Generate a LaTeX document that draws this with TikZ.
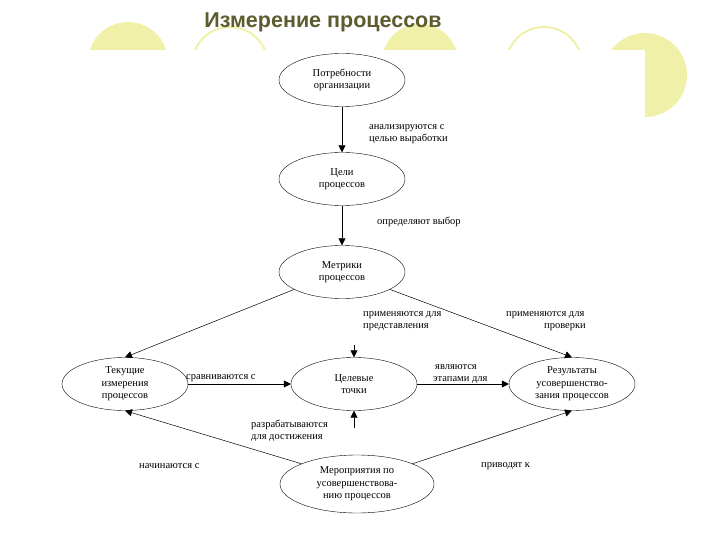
\documentclass[tikz,border=0pt]{standalone}
\usepackage{fontspec}
\setmainfont{Liberation Serif}
\newfontfamily\titlefont{Liberation Sans}
\usetikzlibrary{shapes.geometric,arrows.meta}
\definecolor{deco}{HTML}{F0F0A8}
\definecolor{ttl}{HTML}{5C5C2E}
\begin{document}
\begin{tikzpicture}[x=1pt,y=-1pt,
  ell/.style={draw,ellipse,minimum width=126pt,minimum height=53pt,align=center,font=\fontsize{10.5}{12.5}\selectfont,inner sep=1pt},
  lbl/.style={font=\fontsize{10.5}{12}\selectfont,align=left,inner sep=1pt},
  con/.style={-{Triangle[length=7pt,width=7pt]},line width=0.5pt}]
\useasboundingbox (0,0) rectangle (720,540);
% decorations
\begin{scope}
\clip (0,0) rectangle (720,50);
\fill[deco] (128,62) circle (40);
\fill[deco] (420,62) circle (38);
\draw[deco,line width=2pt] (230,65) circle (38);
\draw[deco,line width=2pt] (544,65) circle (38);
\end{scope}
\begin{scope}
\clip (0,0) rectangle (720,50) (645,0) rectangle (720,160);
\fill[deco] (645,75) circle (42);
\end{scope}
\node[font=\titlefont\bfseries\fontsize{21.5}{24}\selectfont,text=ttl] (title) at (323,22) {Измерение процессов};
% nodes
\node[ell] (a) at (342,80) {Потребности\\организации};
\node[ell] (b) at (342,179) {Цели\\процессов};
\node[ell] (c) at (342,272) {Метрики\\процессов};
\node[ell] (d) at (125,384) {Текущие\\измерения\\процессов};
\node[ell] (e) at (354,384) {Целевые\\точки};
\node[ell] (f) at (572,384) {Результаты\\усовершенство-\\зания процессов};
\node[ell,minimum width=154pt,minimum height=58pt] (g) at (357,484) {Мероприятия по\\усовершенствова-\\нию процессов};
% arrows
\draw[con] (a) -- (b);
\draw[con] (b) -- (c);
\draw[con] (c.200) -- (d.north);
\draw[con] (c.-20) -- (f.north);
\coordinate (ein) at (354,345);
\coordinate (eout) at (354,428);
\draw[con] (ein) -- (e.north);
\draw[con] (eout) -- (e.south);
\draw[con] (d.east) -- (e.west);
\draw[con] (e.east) -- (f.west);
\draw[con] (g.160) -- (d.south);
\draw[con] (g.20) -- (f.south);
% labels
\node[lbl,anchor=west] (l1) at (368,134) {анализируются с\\целью выработки};
\node[lbl,anchor=west] (l2) at (376,222) {определяют выбор};
\node[lbl,anchor=west] (l3) at (362,321) {применяются для\\представления};
\node[lbl,anchor=west] (l4) at (505,321) {применяются для\\\hspace*{38pt}проверки};
\node[lbl,anchor=west] (l5) at (185,378) {сравниваются с};
\node[lbl,anchor=west] (l6) at (432,374) {\hspace*{2pt}являются\\этапами для};
\node[lbl,anchor=west] (l7) at (250,431) {разрабатываются\\для достижения};
\node[lbl,anchor=west] (l8) at (138,466) {начинаются с};
\node[lbl,anchor=west] (l9) at (480,466) {приводят к};
\end{tikzpicture}
\end{document}
